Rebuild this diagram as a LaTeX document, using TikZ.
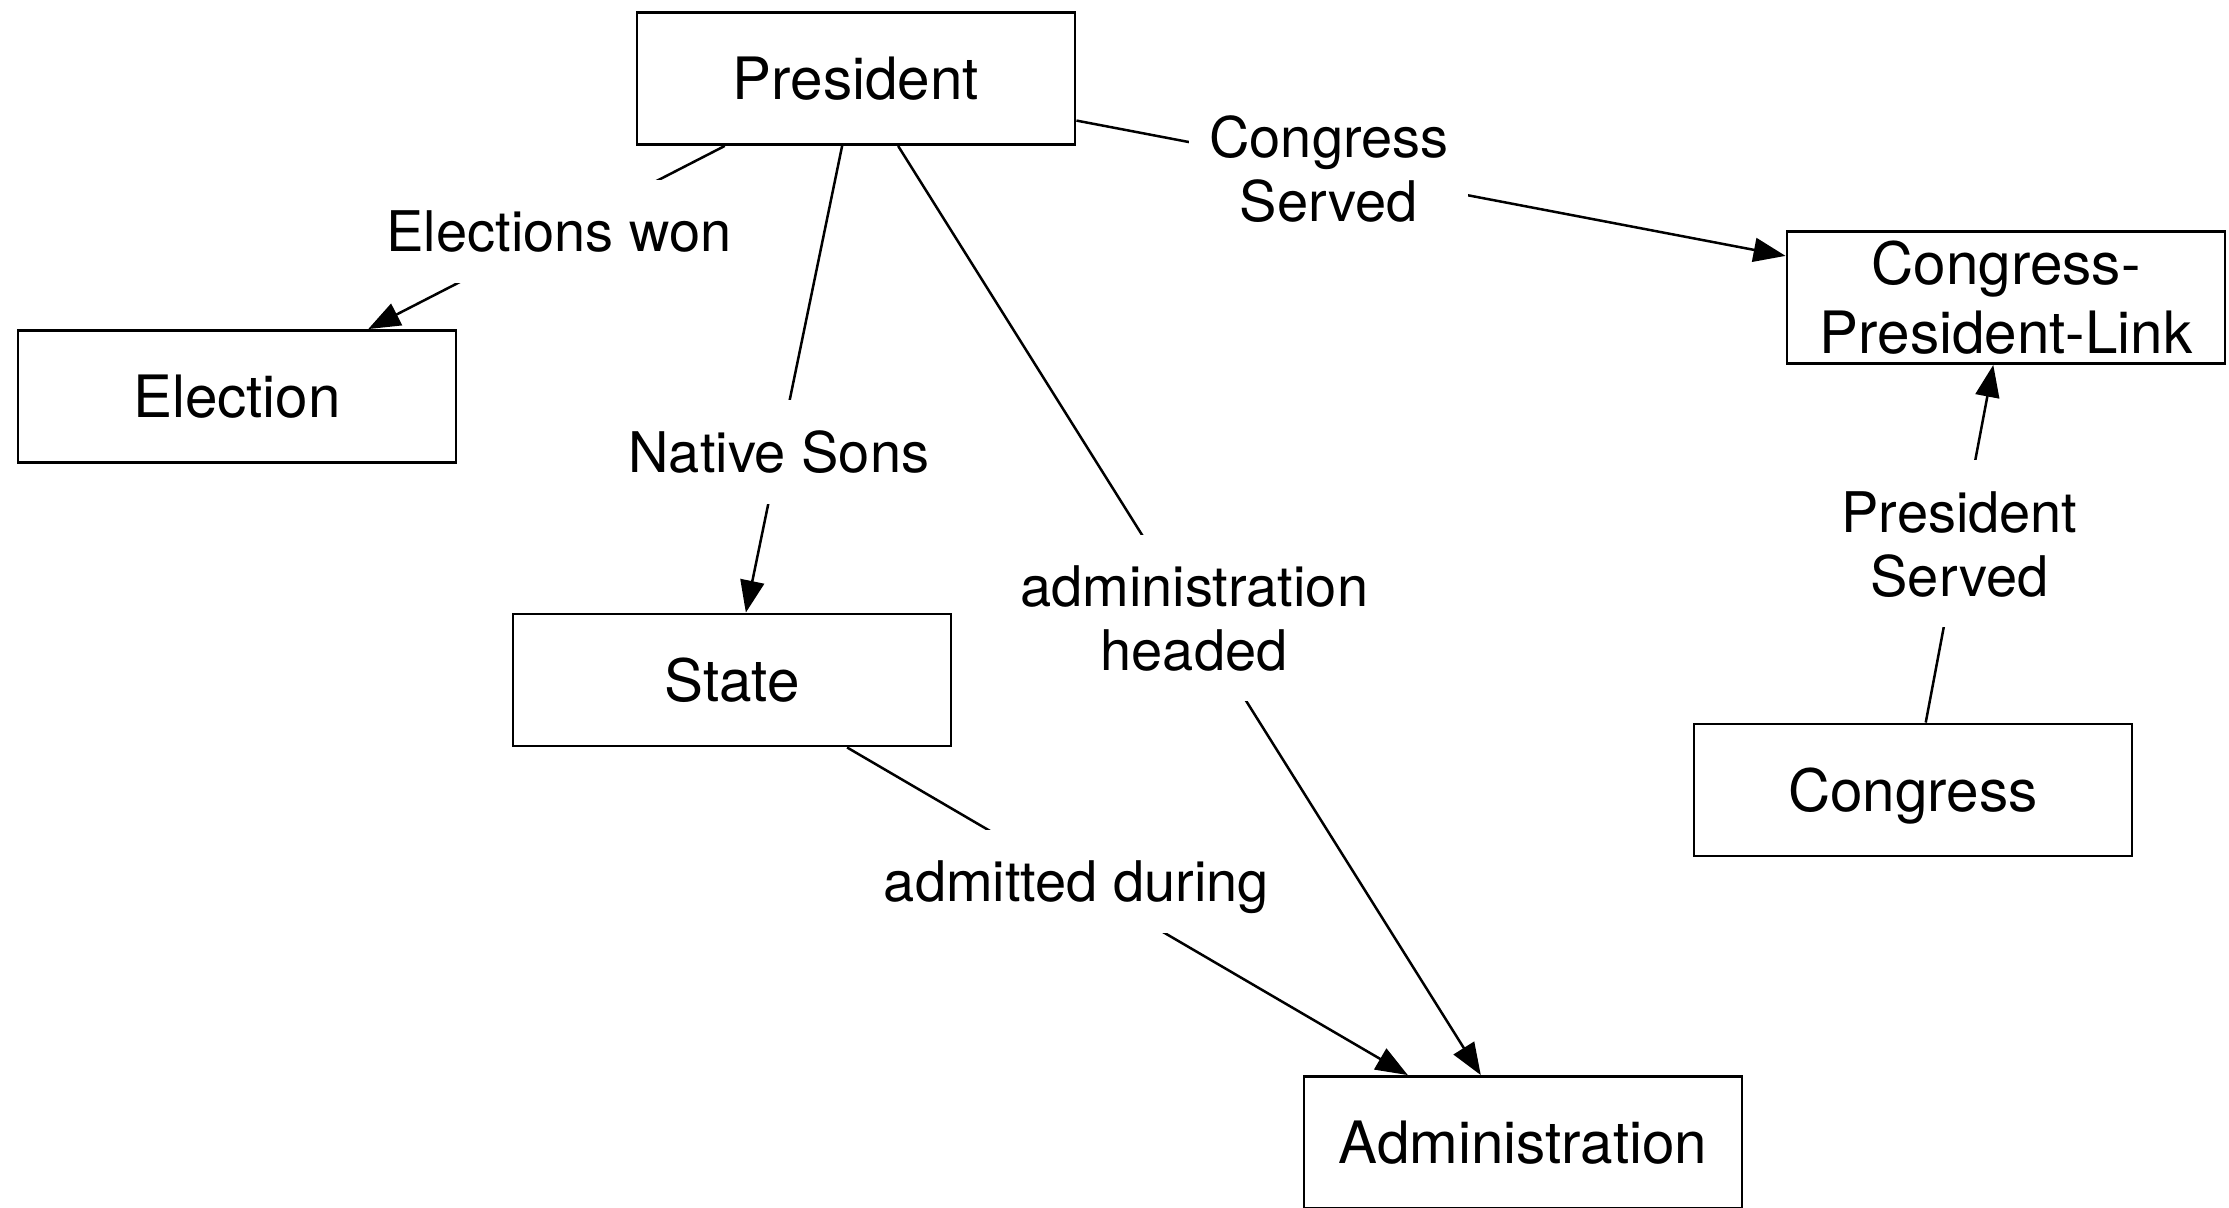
\documentclass[tikz,border=0pt]{standalone}
\usepackage{fontspec}
\setmainfont{TeX Gyre Heros}
\usetikzlibrary{arrows.meta}
\begin{document}
\begin{tikzpicture}[x=0.5pt,y=-0.5pt,
  entity/.style={draw, line width=1.45pt, minimum width=219pt, minimum height=66pt,
    inner sep=0pt, text depth=0pt, align=center, font=\fontsize{29.2}{34.5}\selectfont},
  lbl/.style={fill=white, inner xsep=10pt, inner ysep=15.5pt, text depth=0pt,
    align=center, font=\fontsize{28}{32}\selectfont},
  rel/.style={line width=1.25pt, -{Triangle[length=16pt,width=12pt]}}]
\useasboundingbox (0,0) rectangle (2229,1207);
\node[entity] (P) at (856,78.5) {President};
\node[entity] (E) at (237,396.5) {Election};
\node[entity] (S) at (732,680) {State};
\node[entity] (A) at (1523,1142.5) {Administration};
\node[entity] (L) at (2006,297.5) {Congress-\\President-Link};
\node[entity] (C) at (1913,790) {Congress};
\draw[rel] (P) -- node[lbl,pos=0.465] (l1) {Elections won} (E);
\draw[rel] (P) -- node[lbl,pos=0.656] (l2) {Native Sons} (S);
\draw[rel] (P) -- node[lbl,pos=0.508] (l3) {administration\\headed} (A);
\draw[rel] (S) -- node[lbl,pos=0.409] (l4) {admitted during} (A);
\draw[rel] (P) -- node[lbl,pos=0.356] (l5) {Congress\\Served} (L);
\draw[rel] (C) -- node[lbl,pos=0.5] (l6) {President\\Served} (L);
\end{tikzpicture}
\end{document}
